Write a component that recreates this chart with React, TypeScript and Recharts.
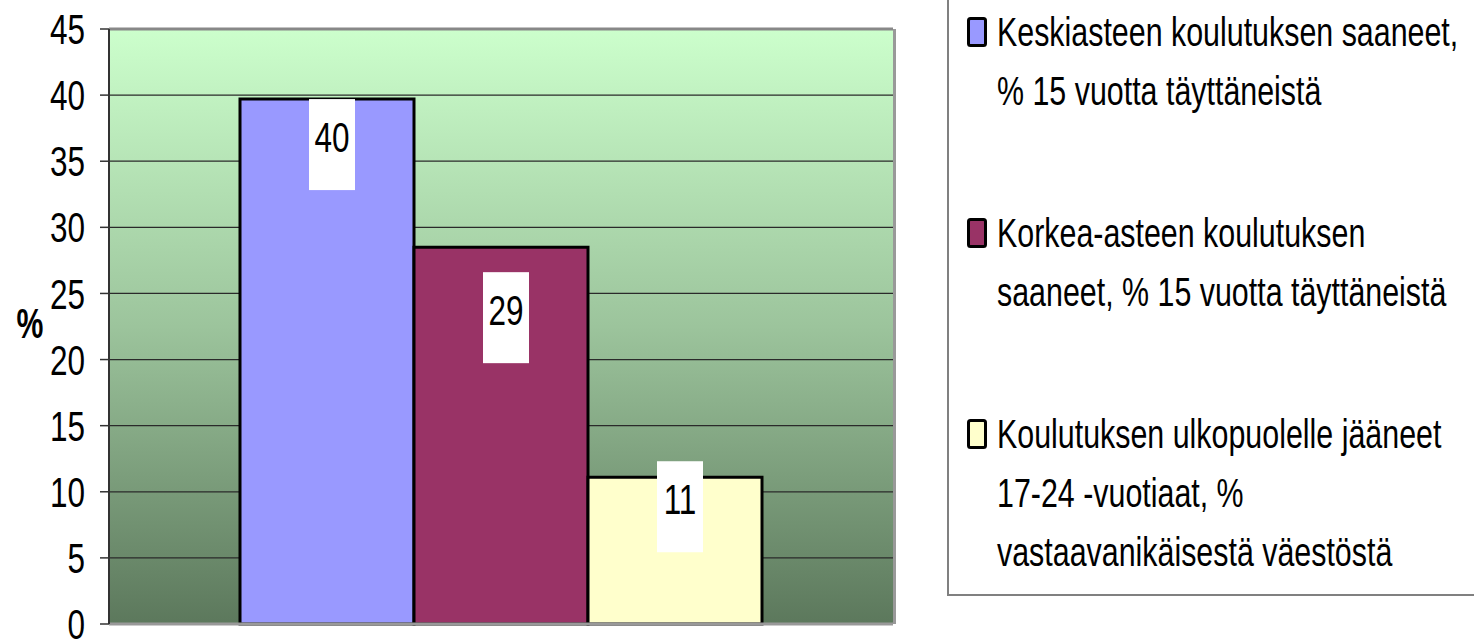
import React from 'react';
import { BarChart, Bar, XAxis, YAxis, CartesianGrid, Legend, LabelList, ReferenceLine } from 'recharts';

const CATEGORIES = ['Koulutus'];
const SERIES_KEYS = ['keskiaste', 'korkeaaste', 'ulkopuolella'];
const SERIES_NAMES = [
  'Keskiasteen koulutuksen saaneet,\n% 15 vuotta täyttäneistä',
  'Korkea-asteen koulutuksen\nsaaneet, % 15 vuotta täyttäneistä',
  'Koulutuksen ulkopuolelle jääneet\n17-24 -vuotiaat, %\nvastaavanikäisestä väestöstä',
];
const SERIES_VALUES = [39.7, 28.5, 11.1];
const SERIES_COLORS = ['#9999FF', '#993366', '#FFFFCC'];
const Y_TICKS = [0, 5, 10, 15, 20, 25, 30, 35, 40, 45];

// label box top, relative to the bar top (Excel labels were dragged by hand)
const LABEL_SHIFT = [0, 25, -16];

const FONT = '"Liberation Sans", Arial, sans-serif';
const SQUEEZE = 0.75;

const data = CATEGORIES.map((name) => {
  const row: Record<string, string | number> = { name };
  SERIES_KEYS.forEach((k, i) => {
    row[k] = SERIES_VALUES[i];
  });
  return row;
});

const YTick = (props: any) => {
  const { x, y, payload } = props;
  return (
    <text
      transform={`translate(${x},${y}) scale(${SQUEEZE},1)`}
      textAnchor="end"
      dy="0.36em"
      fontSize={42}
      fontFamily={FONT}
      fill="#000"
    >
      {payload.value}
    </text>
  );
};

const makeLabel = (idx: number) => (props: any) => {
  const { x, y, width, value } = props;
  const cx = x + width / 2 + 5;
  const top = y + LABEL_SHIFT[idx];
  return (
    <g>
      <rect x={cx - 23} y={top} width={46} height={91} fill="#fff" />
      <text
        transform={`translate(${cx},${top + 38}) scale(${SQUEEZE},1)`}
        textAnchor="middle"
        dy="0.36em"
        fontSize={42}
        fontFamily={FONT}
        fill="#000"
      >
        {Math.round(value)}
      </text>
    </g>
  );
};

const LegendBox = (props: any) => {
  const { payload } = props;
  return (
    <svg width={540} height={611} style={{ display: 'block' }}>
      <rect x={1} y={-4} width={560} height={609} fill="#fff" stroke="#808080" strokeWidth={2} />
      {(payload || []).map((entry: any, i: number) => {
        const base = 56 + i * 201;
        const lines = SERIES_NAMES[i].split('\n');
        return (
          <g key={`leg-${i}`}>
            <rect
              x={21.5}
              y={base - 27.5}
              width={17}
              height={27}
              rx={2}
              fill={SERIES_COLORS[i]}
              stroke="#000"
              strokeWidth={3}
            />
            {lines.map((ln, j) => (
              <text
                key={j}
                transform={`translate(50,${base + j * 59}) scale(0.76,1)`}
                fontSize={40}
                fontFamily={FONT}
                fill="#000"
              >
                {ln}
              </text>
            ))}
          </g>
        );
      })}
    </svg>
  );
};

export default function App() {
  return (
    <div style={{ position: 'absolute', left: 0, top: 0, width: 1474, height: 639, background: '#fff' }}>
      <BarChart
        width={1474}
        height={639}
        data={data}
        margin={{ top: 29, right: 581, bottom: 15, left: 0 }}
        barGap={0}
      >
        <defs>
          <linearGradient id="plotBg" x1="0" y1="0" x2="0" y2="1">
            <stop offset="0%" stopColor="#CCFFCC" />
            <stop offset="50%" stopColor="#9CC49C" />
            <stop offset="100%" stopColor="#5C785C" />
          </linearGradient>
        </defs>
        <CartesianGrid vertical={false} fill="url(#plotBg)" fillOpacity={1} stroke="#2a2a2a" strokeWidth={1.3} />
        <CartesianGrid
          horizontal={false}
          stroke="#999"
          strokeWidth={3}
          verticalCoordinatesGenerator={({ offset }: any) => [offset.left + offset.width + 1.5]}
        />
        <XAxis dataKey="name" hide />
        <YAxis
          width={109}
          domain={[0, 45]}
          ticks={Y_TICKS}
          interval={0}
          tickSize={9}
          tickMargin={15}
          tick={<YTick />}
          axisLine={{ stroke: '#333', strokeWidth: 2 }}
          tickLine={{ stroke: '#333', strokeWidth: 1.5 }}
          label={(p: any) => {
            const vb = p.viewBox || { x: 0, y: 29, width: 109, height: 595 };
            return (
              <text
                transform={`translate(${vb.x + 30},${vb.y + vb.height / 2 + 11}) scale(0.72,1)`}
                textAnchor="middle"
                fontSize={42}
                fontWeight="bold"
                fontFamily={FONT}
                fill="#000"
              >
                %
              </text>
            );
          }}
        />
        <ReferenceLine y={45} stroke="#888" strokeWidth={3} />
        <ReferenceLine y={0} stroke="#999" strokeWidth={3} />
        {SERIES_KEYS.map((k, i) => (
          <Bar
            key={k}
            dataKey={k}
            name={SERIES_NAMES[i]}
            fill={SERIES_COLORS[i]}
            stroke="#000"
            strokeWidth={3}
            barSize={174}
            isAnimationActive={false}
          >
            <LabelList dataKey={k} content={makeLabel(i)} />
          </Bar>
        ))}
        <Legend
          layout="vertical"
          align="center"
          verticalAlign="middle"
          content={<LegendBox />}
          wrapperStyle={{ left: 947, top: -10, width: 540, height: 611 }}
        />
      </BarChart>
    </div>
  );
}
